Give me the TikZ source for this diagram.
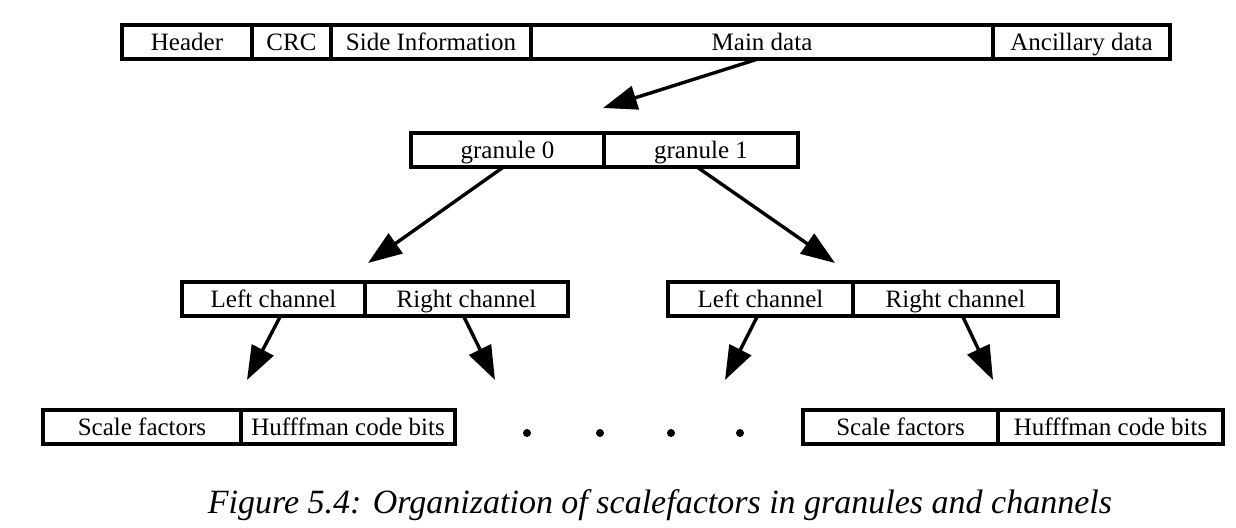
\documentclass[tikz,border=0pt]{standalone}
\usepackage{fontspec}
\setmainfont{Liberation Serif}
\usetikzlibrary{arrows.meta,positioning}

\tikzset{
  cell/.style={draw,line width=1.8pt,inner sep=0pt,outer sep=0pt,minimum height=17pt,
    minimum width=#1,text height=10.5pt,text depth=1.5pt,font=\fontsize{12.5}{14}\selectfont},
  link/.style={-{Triangle[length=17pt,width=12pt]},line width=1.7pt},
  ellipsisdot/.style={circle,fill,inner sep=0pt,minimum size=4pt},
}

\begin{document}
\begin{tikzpicture}[x=0.5pt,y=-0.5pt]
\useasboundingbox (0,0) rectangle (1236,528);
% frame
\node[cell=65pt,anchor=west] (hdr) at (122,42) {Header};
\node[cell=39.5pt,right=0pt of hdr] (crc) {CRC};
\node[cell=100pt,right=0pt of crc] (side) {Side Information};
\node[cell=231pt,right=0pt of side] (main) {Main data};
\node[cell=88.5pt,right=0pt of main] (anc) {Ancillary data};
% granules
\node[cell=96.5pt,anchor=west] (g0) at (411,150) {granule 0};
\node[cell=97pt,right=0pt of g0] (g1) {granule 1};
% channels
\node[cell=91.5pt,anchor=west] (lc0) at (182,299) {Left channel};
\node[cell=101.5pt,right=0pt of lc0] (rc0) {Right channel};
\node[cell=92.5pt,anchor=west] (lc1) at (668,299) {Left channel};
\node[cell=102.5pt,right=0pt of lc1] (rc1) {Right channel};
% scale factors and huffman bits
\node[cell=99pt,anchor=west] (sf0) at (43,427) {Scale factors};
\node[cell=107pt,right=0pt of sf0] (hb0) {Hufffman code bits};
\node[cell=97.5pt,anchor=west] (sf1) at (803,427) {Scale factors};
\node[cell=112.5pt,right=0pt of sf1] (hb1) {Hufffman code bits};
\foreach \x [count=\i] in {527,600,671,740}
  \node[ellipsisdot] (dot\i) at (\x,433) {};
% arrow ends
\coordinate (tg) at (603,108);
\coordinate (tl0) at (368,263);\coordinate (tr0) at (835,263);
\coordinate (ta) at (247,380);\coordinate (tb) at (495,380);
\coordinate (tc) at (725,380);\coordinate (td) at (993,380);
\draw[link] ([xshift=-2pt]main.south) -- (tg);
\draw[link] ([xshift=-2pt]g0.south) -- (tl0);
\draw[link] ([xshift=-2pt]g1.south) -- (tr0);
\draw[link] ([xshift=3.5pt]lc0.south) -- (ta);
\draw[link] ([xshift=-1.5pt]rc0.south) -- (tb);
\draw[link] ([xshift=-1.5pt]lc1.south) -- (tc);
\draw[link] ([xshift=3.5pt]rc1.south) -- (td);
\node[anchor=base,font=\fontsize{17}{20}\selectfont\itshape] (cap) at (660,514)
  {Figure 5.4: Organization of scalefactors in granules and channels};
\end{tikzpicture}
\end{document}
